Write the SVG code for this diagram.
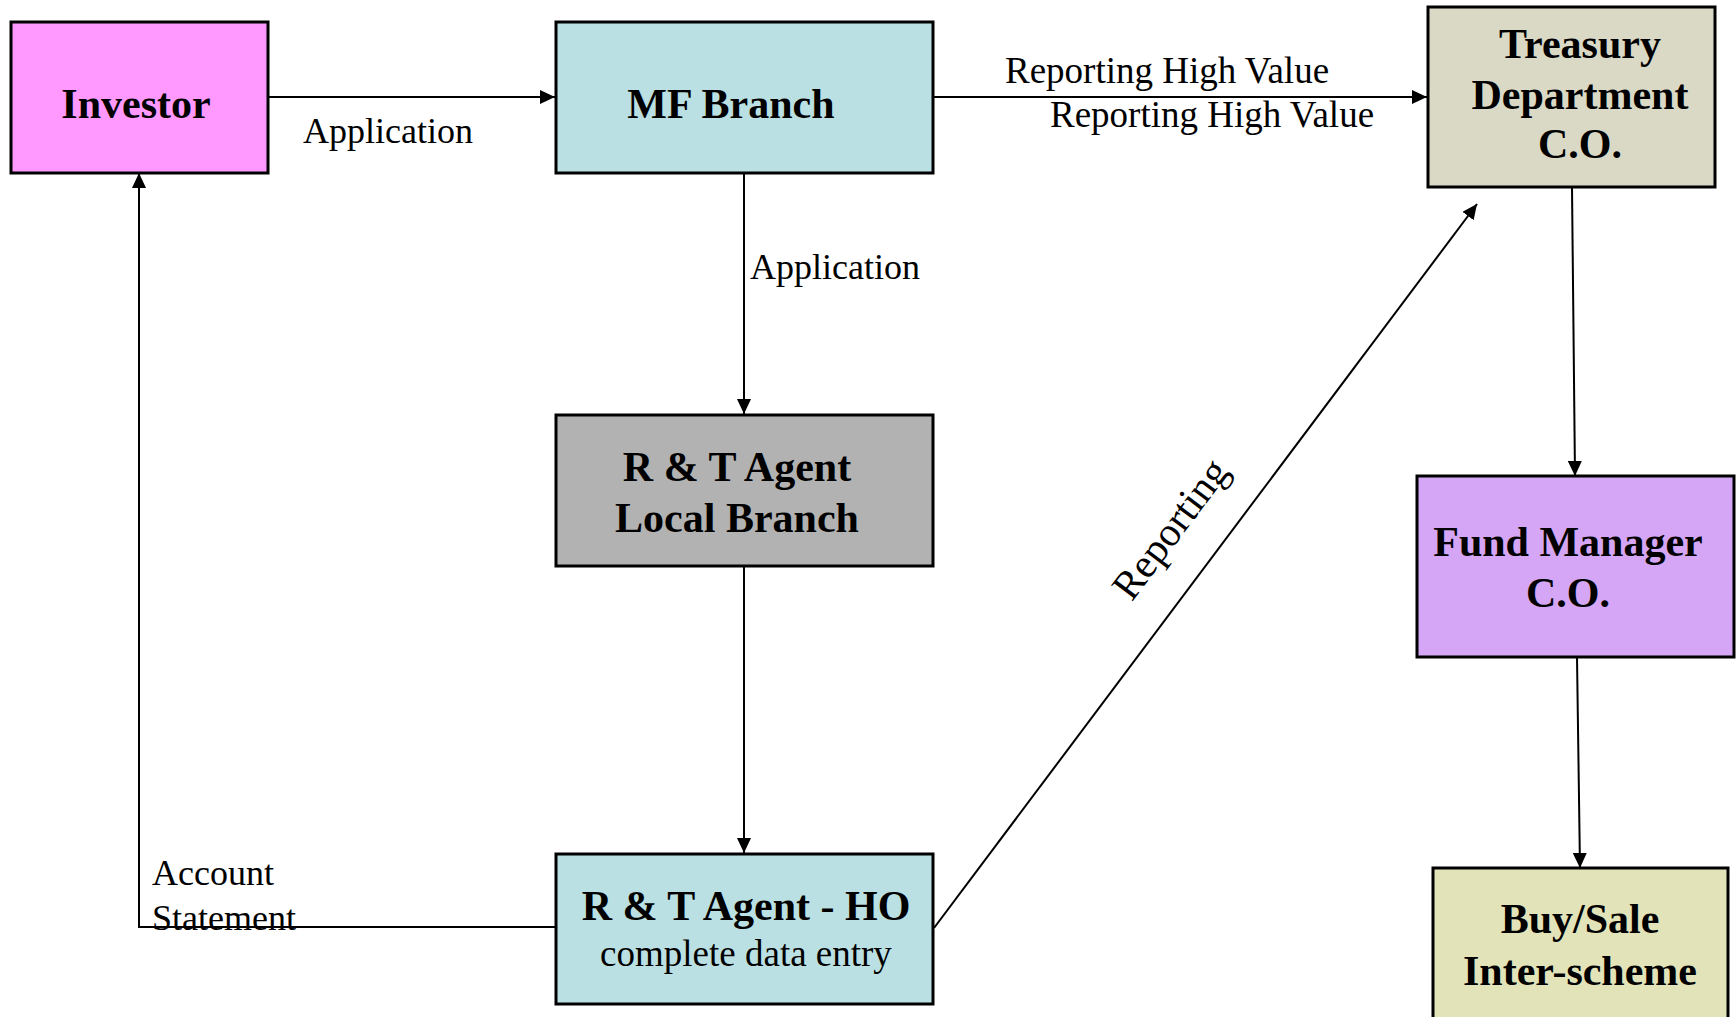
<svg xmlns="http://www.w3.org/2000/svg" width="1736" height="1017" viewBox="0 0 1736 1017">
  <style>
    .box { stroke: #000; stroke-width: 3; }
    .title { font-family: "Liberation Serif", "Times New Roman", serif; font-weight: bold; font-size: 42px; fill: #000; text-anchor: middle; }
    .sub { font-family: "Liberation Serif", "Times New Roman", serif; font-size: 37px; fill: #000; text-anchor: middle; }
    .lbl { font-family: "Liberation Serif", "Times New Roman", serif; font-size: 36px; fill: #000; }
    .lbl.wide { font-size: 37px; }
    .lbl.diag { font-size: 41px; text-anchor: middle; }
    .conn { fill: none; stroke: #000; stroke-width: 2; marker-end: url(#arrow); }
  </style>
  <defs>
    <marker id="arrow" markerWidth="15" markerHeight="14" refX="15" refY="7" orient="auto" markerUnits="userSpaceOnUse">
      <path d="M0,0 L15,7 L0,14 Z" fill="#000"/>
    </marker>
  </defs>
  <rect width="1736" height="1017" fill="#fff"/>

  <!-- connectors and their labels -->
  <g id="connectors">
    <path class="conn" d="M268,97 H555"/>
    <text class="lbl" x="303" y="143">Application</text>

    <path class="conn" d="M934,97 H1427"/>
    <text class="lbl wide" x="1005" y="83">Reporting High Value</text>
    <text class="lbl wide" x="1050" y="127">Reporting High Value</text>

    <path class="conn" d="M744,173 V414"/>
    <text class="lbl" x="750" y="279">Application</text>

    <path class="conn" d="M744,566 V853"/>

    <path class="conn" d="M934,928 L1477,204"/>
    <text class="lbl diag" transform="translate(1181,537) rotate(-53)">Reporting</text>

    <path class="conn" d="M555,927 H139 V173"/>
    <text class="lbl" x="152" y="885">Account</text>
    <text class="lbl" x="152" y="930">Statement</text>

    <path class="conn" d="M1572,187 L1575,476"/>
    <path class="conn" d="M1577,657 L1580,868"/>
  </g>

  <!-- nodes -->
  <g id="investor">
    <rect class="box" x="11" y="22" width="257" height="151" fill="#FF99FF"/>
    <text class="title" x="136" y="118">Investor</text>
  </g>

  <g id="mf-branch">
    <rect class="box" x="556" y="22" width="377" height="151" fill="#BBE0E3"/>
    <text class="title" x="731" y="118">MF Branch</text>
  </g>

  <g id="treasury">
    <rect class="box" x="1428" y="7" width="287" height="180" fill="#DAD9C6"/>
    <text class="title" x="1580" y="58">Treasury</text>
    <text class="title" x="1580" y="109">Department</text>
    <text class="title" x="1580" y="158">C.O.</text>
  </g>

  <g id="rt-local">
    <rect class="box" x="556" y="415" width="377" height="151" fill="#B2B2B2"/>
    <text class="title" x="737" y="481">R &amp; T Agent</text>
    <text class="title" x="737" y="532">Local Branch</text>
  </g>

  <g id="fund-manager">
    <rect class="box" x="1417" y="476" width="317" height="181" fill="#D4A6F5"/>
    <text class="title" x="1568" y="556">Fund Manager</text>
    <text class="title" x="1568" y="607">C.O.</text>
  </g>

  <g id="rt-ho">
    <rect class="box" x="556" y="854" width="377" height="150" fill="#BBE0E3"/>
    <text class="title" x="746" y="920">R &amp; T Agent - HO</text>
    <text class="sub" x="746" y="966">complete data entry</text>
  </g>

  <g id="buy-sale">
    <rect class="box" x="1433" y="868" width="295" height="180" fill="#E3E3B9"/>
    <text class="title" x="1580" y="933">Buy/Sale</text>
    <text class="title" x="1580" y="985">Inter-scheme</text>
  </g>
</svg>
